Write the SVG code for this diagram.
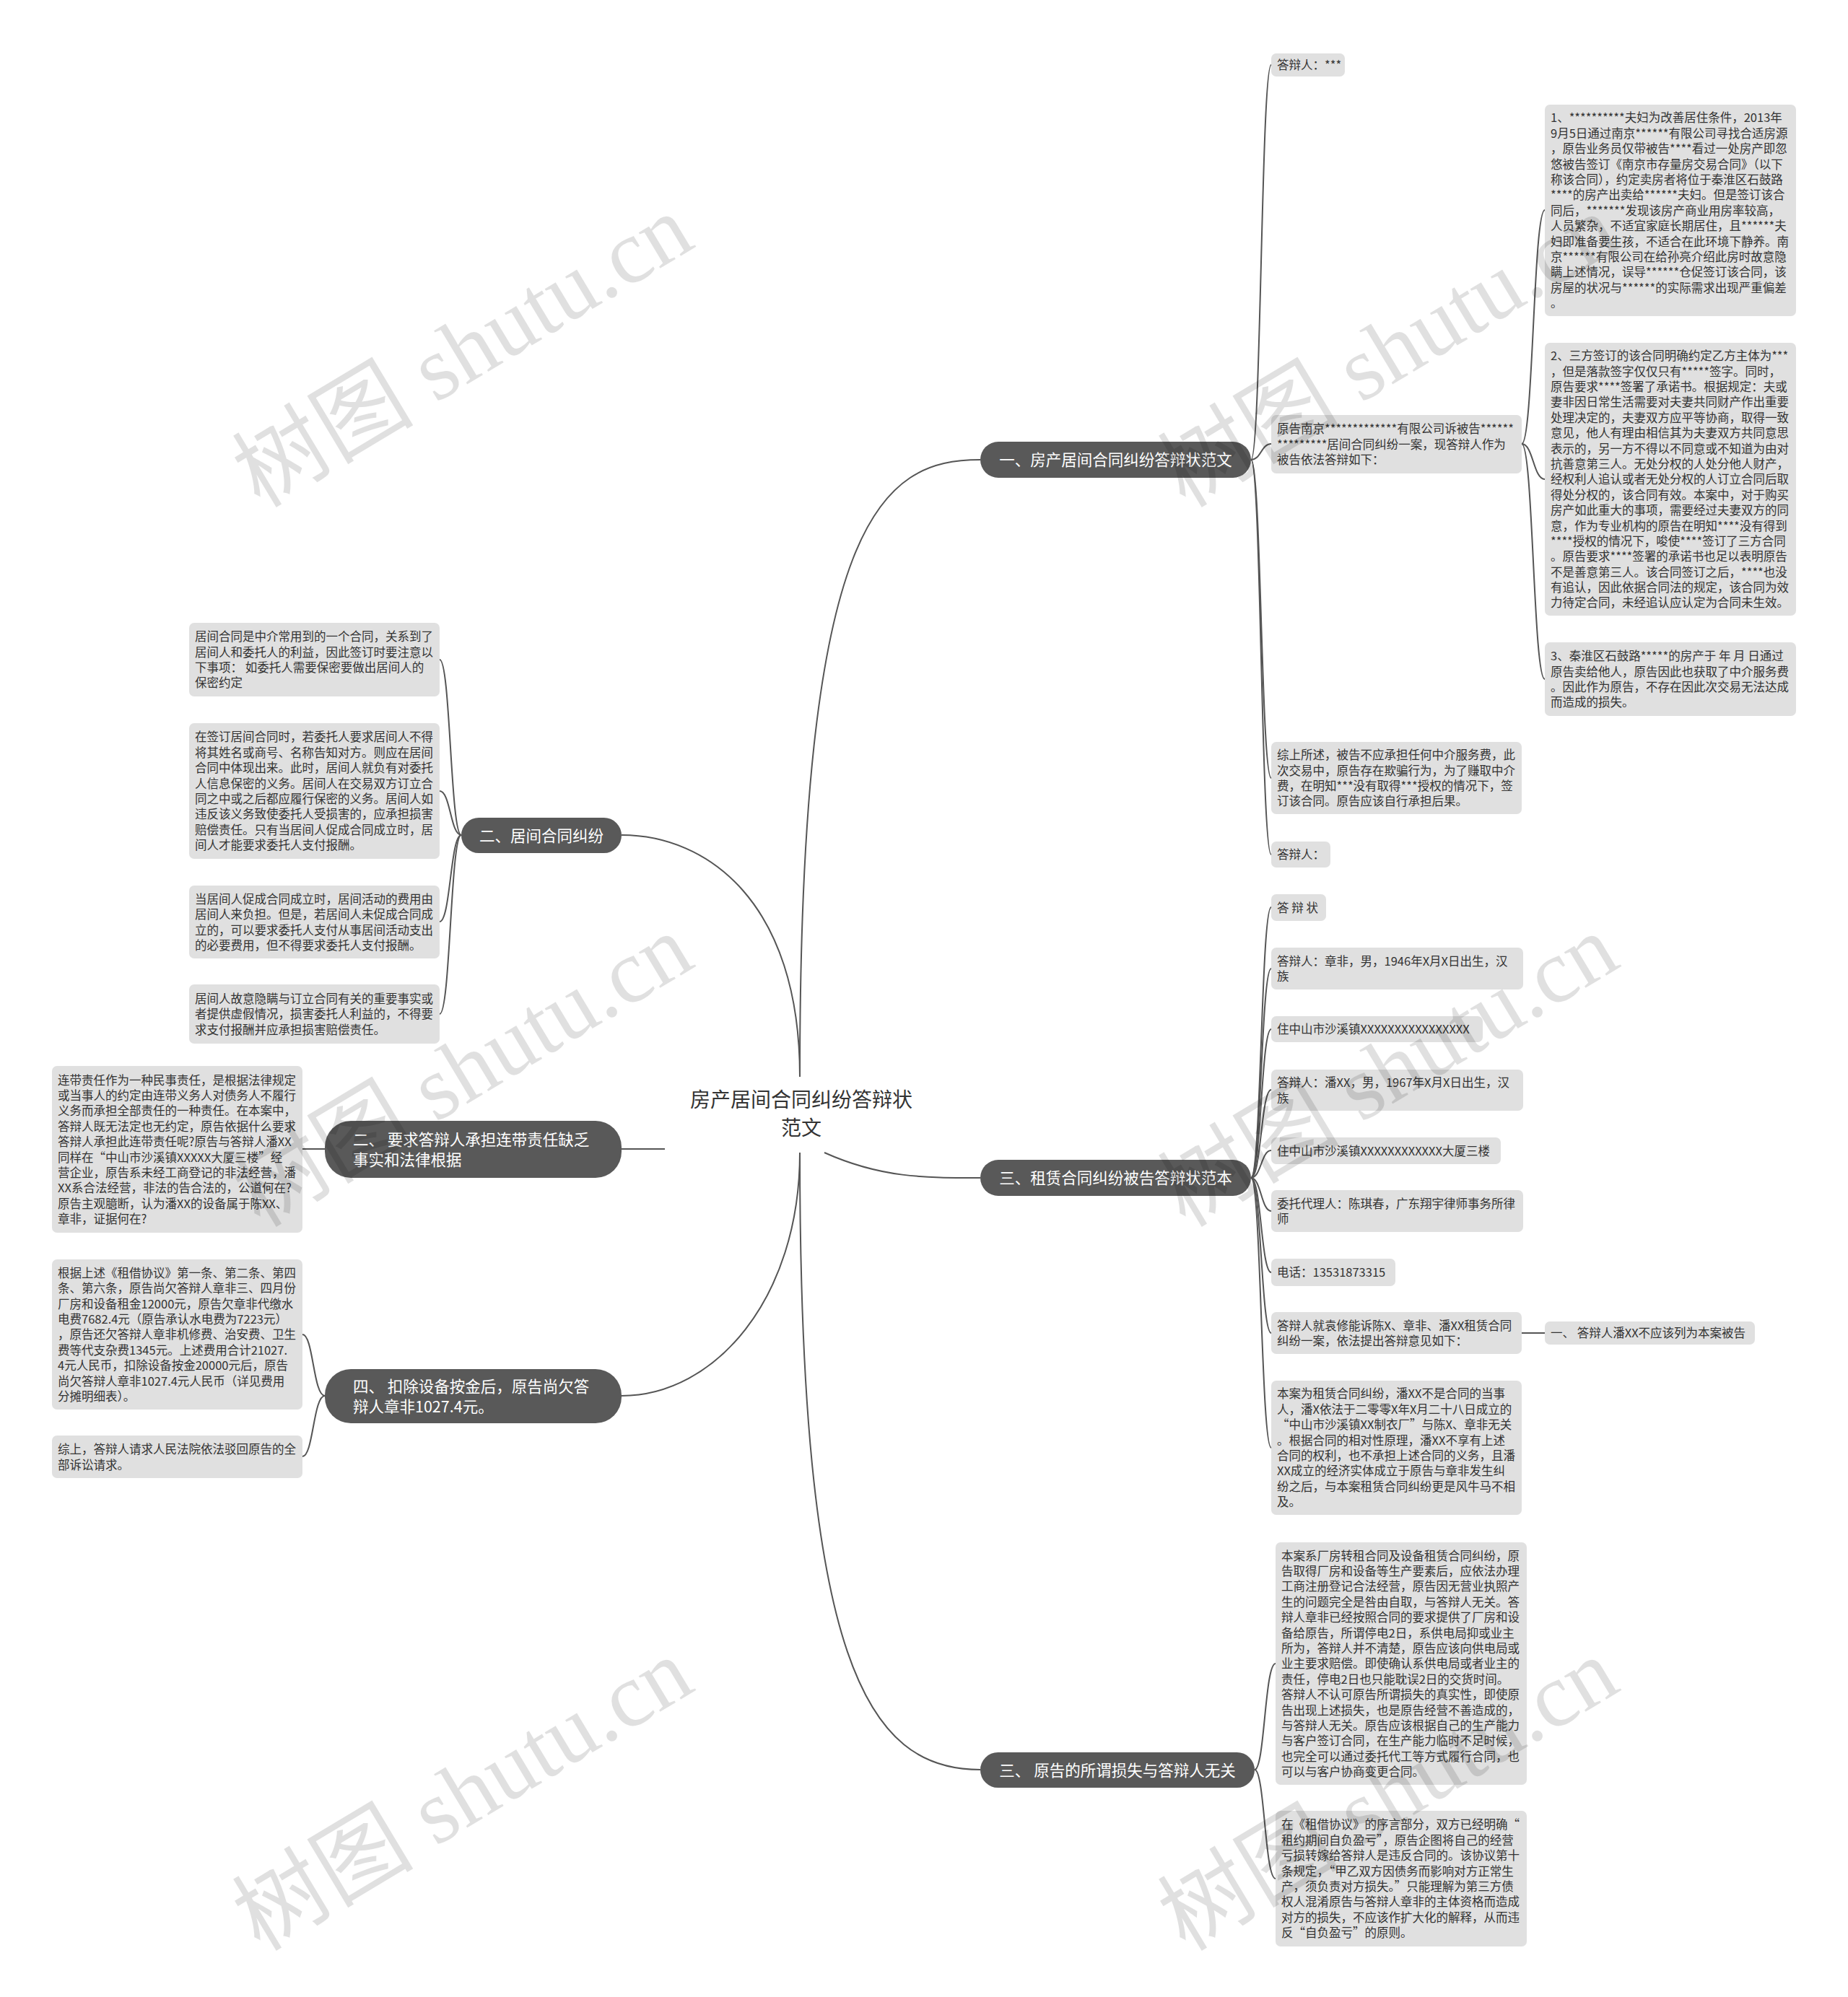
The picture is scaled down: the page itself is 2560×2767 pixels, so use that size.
<svg xmlns="http://www.w3.org/2000/svg" width="2560" height="2767" viewBox="0 0 2560 2767">
<style>
text{font-family:"Noto Sans CJK SC","Noto Sans",sans-serif}
.leaf rect{fill:#e0e0e0}
.lt{font-size:16.5px;fill:#333}
.br rect{fill:#595959}
.bt{font-size:21.5px;fill:#fff}
.rt{font-size:28px;fill:#333}
.conn path{stroke:#555;stroke-width:2;fill:none}
.wm{font-family:"Liberation Serif","Noto Sans CJK SC",serif;font-size:126px;fill:#000;fill-opacity:0.12}
</style>
<rect width="2560" height="2767" fill="#fff"/>
<g id="connectors" class="conn">
<path d="M1108 1492 C1108 720 1220 637 1358 637"/>
<path d="M861 1157 C980 1157 1108 1250 1108 1492"/>
<path d="M861 1592 L921 1592"/>
<path d="M861 1934 C990 1934 1108 1800 1108 1597"/>
<path d="M1142 1597 C1220 1632 1280 1632 1358 1632"/>
<path d="M1108 1597 C1108 2300 1200 2452 1358 2452"/>
<path d="M1733 637 C1747 637 1747 90 1761 90"/>
<path d="M1733 637 C1747 637 1747 615 1761 615"/>
<path d="M1733 637 C1747 637 1747 1078 1761 1078"/>
<path d="M1733 637 C1747 637 1747 1184 1761 1184"/>
<path d="M2108 615 C2124 615 2124 291 2140 291"/>
<path d="M2108 615 C2124 615 2124 664 2140 664"/>
<path d="M2108 615 C2124 615 2124 941 2140 941"/>
<path d="M639 1157 C624 1157 624 914 609 914"/>
<path d="M639 1157 C624 1157 624 1096 609 1096"/>
<path d="M639 1157 C624 1157 624 1277 609 1277"/>
<path d="M639 1157 C624 1157 624 1405 609 1405"/>
<path d="M450 1592 L419 1592"/>
<path d="M450 1934 C434 1934 434 1849 419 1849"/>
<path d="M450 1934 C434 1934 434 2018 419 2018"/>
<path d="M1733 1632 C1747 1632 1747 1257 1761 1257"/>
<path d="M1733 1632 C1747 1632 1747 1342 1761 1342"/>
<path d="M1733 1632 C1747 1632 1747 1426 1761 1426"/>
<path d="M1733 1632 C1747 1632 1747 1510 1761 1510"/>
<path d="M1733 1632 C1747 1632 1747 1594 1761 1594"/>
<path d="M1733 1632 C1747 1632 1747 1678 1761 1678"/>
<path d="M1733 1632 C1747 1632 1747 1763 1761 1763"/>
<path d="M1733 1632 C1747 1632 1747 1847 1761 1847"/>
<path d="M1733 1632 C1747 1632 1747 2006 1761 2006"/>
<path d="M2108 1847 L2140 1847"/>
<path d="M1738 2452 C1752 2452 1752 2305 1767 2305"/>
<path d="M1738 2452 C1752 2452 1752 2603 1767 2603"/>
</g>
<g id="root">
<text class="rt" text-anchor="middle"><tspan x="1110" y="1534">房产居间合同纠纷答辩状</tspan><tspan x="1110" y="1573">范文</tspan></text>
</g>
<g id="b1" class="br"><rect x="1358" y="612" width="375" height="50" rx="25"/><text class="bt" x="1545.5" y="645" text-anchor="middle">一、房产居间合同纠纷答辩状范文</text></g>
<g id="b2" class="br"><rect x="639" y="1133" width="222" height="49" rx="24.5"/><text class="bt" x="750" y="1165.5" text-anchor="middle">二、居间合同纠纷</text></g>
<g id="b5" class="br"><rect x="450" y="1553" width="411" height="79" rx="36"/><text class="bt"><tspan x="489" y="1586.5">二、 要求答辩人承担连带责任缺乏</tspan><tspan x="489" y="1614.5">事实和法律根据</tspan></text></g>
<g id="b6" class="br"><rect x="450" y="1897" width="411" height="75" rx="36"/><text class="bt"><tspan x="489" y="1928.5">四、 扣除设备按金后，原告尚欠答</tspan><tspan x="489" y="1956.5">辩人章非1027.4元。</tspan></text></g>
<g id="b3" class="br"><rect x="1358" y="1607" width="375" height="50" rx="25"/><text class="bt" x="1545.5" y="1640" text-anchor="middle">三、租赁合同纠纷被告答辩状范本</text></g>
<g id="b4" class="br"><rect x="1358" y="2428" width="380" height="49" rx="24.5"/><text class="bt" x="1548" y="2460.5" text-anchor="middle">三、 原告的所谓损失与答辩人无关</text></g>
<g id="n-a" class="leaf"><rect x="1761" y="74" width="102" height="32" rx="7"/><text class="lt" x="1769" y="96.3">答辩人：***</text></g>
<g id="n-b" class="leaf"><rect x="1761" y="575" width="347" height="81" rx="7"/><text class="lt"><tspan x="1769" y="600.4">原告南京*************有限公司诉被告******</tspan><tspan x="1769" dy="21.4">*********居间合同纠纷一案，现答辩人作为</tspan><tspan x="1769" dy="21.4">被告依法答辩如下：</tspan></text></g>
<g id="n-b1" class="leaf"><rect x="2140" y="145" width="348" height="293" rx="7"/><text class="lt"><tspan x="2148" y="169.4">1、**********夫妇为改善居住条件，2013年</tspan><tspan x="2148" dy="21.4">9月5日通过南京******有限公司寻找合适房源</tspan><tspan x="2148" dy="21.4">，原告业务员仅带被告****看过一处房产即忽</tspan><tspan x="2148" dy="21.4">悠被告签订《南京市存量房交易合同》（以下</tspan><tspan x="2148" dy="21.4">称该合同），约定卖房者将位于秦淮区石鼓路</tspan><tspan x="2148" dy="21.4">****的房产出卖给******夫妇。但是签订该合</tspan><tspan x="2148" dy="21.4">同后，*******发现该房产商业用房率较高，</tspan><tspan x="2148" dy="21.4">人员繁杂，不适宜家庭长期居住，且******夫</tspan><tspan x="2148" dy="21.4">妇即准备要生孩，不适合在此环境下静养。南</tspan><tspan x="2148" dy="21.4">京******有限公司在给孙亮介绍此房时故意隐</tspan><tspan x="2148" dy="21.4">瞒上述情况，误导******仓促签订该合同，该</tspan><tspan x="2148" dy="21.4">房屋的状况与******的实际需求出现严重偏差</tspan><tspan x="2148" dy="21.4">。</tspan></text></g>
<g id="n-b2" class="leaf"><rect x="2140" y="475" width="348" height="378" rx="7"/><text class="lt"><tspan x="2148" y="499.1">2、三方签订的该合同明确约定乙方主体为***</tspan><tspan x="2148" dy="21.4">，但是落款签字仅仅只有*****签字。同时，</tspan><tspan x="2148" dy="21.4">原告要求****签署了承诺书。根据规定：夫或</tspan><tspan x="2148" dy="21.4">妻非因日常生活需要对夫妻共同财产作出重要</tspan><tspan x="2148" dy="21.4">处理决定的，夫妻双方应平等协商，取得一致</tspan><tspan x="2148" dy="21.4">意见，他人有理由相信其为夫妻双方共同意思</tspan><tspan x="2148" dy="21.4">表示的，另一方不得以不同意或不知道为由对</tspan><tspan x="2148" dy="21.4">抗善意第三人。无处分权的人处分他人财产，</tspan><tspan x="2148" dy="21.4">经权利人追认或者无处分权的人订立合同后取</tspan><tspan x="2148" dy="21.4">得处分权的，该合同有效。本案中，对于购买</tspan><tspan x="2148" dy="21.4">房产如此重大的事项，需要经过夫妻双方的同</tspan><tspan x="2148" dy="21.4">意，作为专业机构的原告在明知****没有得到</tspan><tspan x="2148" dy="21.4">****授权的情况下，唆使****签订了三方合同</tspan><tspan x="2148" dy="21.4">。原告要求****签署的承诺书也足以表明原告</tspan><tspan x="2148" dy="21.4">不是善意第三人。该合同签订之后，****也没</tspan><tspan x="2148" dy="21.4">有追认，因此依据合同法的规定，该合同为效</tspan><tspan x="2148" dy="21.4">力待定合同，未经追认应认定为合同未生效。</tspan></text></g>
<g id="n-b3" class="leaf"><rect x="2140" y="890" width="348" height="102" rx="7"/><text class="lt"><tspan x="2148" y="915.2">3、秦淮区石鼓路*****的房产于 年 月 日通过</tspan><tspan x="2148" dy="21.4">原告卖给他人，原告因此也获取了中介服务费</tspan><tspan x="2148" dy="21.4">。因此作为原告，不存在因此次交易无法达成</tspan><tspan x="2148" dy="21.4">而造成的损失。</tspan></text></g>
<g id="n-c" class="leaf"><rect x="1761" y="1028" width="347" height="100" rx="7"/><text class="lt"><tspan x="1769" y="1052.2">综上所述，被告不应承担任何中介服务费，此</tspan><tspan x="1769" dy="21.4">次交易中，原告存在欺骗行为，为了赚取中介</tspan><tspan x="1769" dy="21.4">费，在明知***没有取得***授权的情况下，签</tspan><tspan x="1769" dy="21.4">订该合同。原告应该自行承担后果。</tspan></text></g>
<g id="n-d" class="leaf"><rect x="1761" y="1166" width="82" height="36" rx="7"/><text class="lt" x="1769" y="1190.3">答辩人：</text></g>
<g id="n-l1" class="leaf"><rect x="262" y="863" width="347" height="102" rx="7"/><text class="lt"><tspan x="270" y="888.2">居间合同是中介常用到的一个合同，关系到了</tspan><tspan x="270" dy="21.4">居间人和委托人的利益，因此签订时要注意以</tspan><tspan x="270" dy="21.4">下事项：  如委托人需要保密要做出居间人的</tspan><tspan x="270" dy="21.4">保密约定</tspan></text></g>
<g id="n-l2" class="leaf"><rect x="262" y="1002" width="347" height="188" rx="7"/><text class="lt"><tspan x="270" y="1027.4">在签订居间合同时，若委托人要求居间人不得</tspan><tspan x="270" dy="21.4">将其姓名或商号、名称告知对方。则应在居间</tspan><tspan x="270" dy="21.4">合同中体现出来。此时，居间人就负有对委托</tspan><tspan x="270" dy="21.4">人信息保密的义务。居间人在交易双方订立合</tspan><tspan x="270" dy="21.4">同之中或之后都应履行保密的义务。居间人如</tspan><tspan x="270" dy="21.4">违反该义务致使委托人受损害的，应承担损害</tspan><tspan x="270" dy="21.4">赔偿责任。只有当居间人促成合同成立时，居</tspan><tspan x="270" dy="21.4">间人才能要求委托人支付报酬。</tspan></text></g>
<g id="n-l3" class="leaf"><rect x="262" y="1227" width="347" height="101" rx="7"/><text class="lt"><tspan x="270" y="1251.7">当居间人促成合同成立时，居间活动的费用由</tspan><tspan x="270" dy="21.4">居间人来负担。但是，若居间人未促成合同成</tspan><tspan x="270" dy="21.4">立的，可以要求委托人支付从事居间活动支出</tspan><tspan x="270" dy="21.4">的必要费用，但不得要求委托人支付报酬。</tspan></text></g>
<g id="n-l4" class="leaf"><rect x="262" y="1364" width="347" height="82" rx="7"/><text class="lt"><tspan x="270" y="1389.9">居间人故意隐瞒与订立合同有关的重要事实或</tspan><tspan x="270" dy="21.4">者提供虚假情况，损害委托人利益的，不得要</tspan><tspan x="270" dy="21.4">求支付报酬并应承担损害赔偿责任。</tspan></text></g>
<g id="n-l5" class="leaf"><rect x="72" y="1477" width="347" height="231" rx="7"/><text class="lt"><tspan x="80" y="1502.5">连带责任作为一种民事责任，是根据法律规定</tspan><tspan x="80" dy="21.4">或当事人的约定由连带义务人对债务人不履行</tspan><tspan x="80" dy="21.4">义务而承担全部责任的一种责任。在本案中，</tspan><tspan x="80" dy="21.4">答辩人既无法定也无约定，原告依据什么要求</tspan><tspan x="80" dy="21.4">答辩人承担此连带责任呢?原告与答辩人潘XX</tspan><tspan x="80" dy="21.4">同样在“中山市沙溪镇XXXXX大厦三楼”经</tspan><tspan x="80" dy="21.4">营企业，原告系未经工商登记的非法经营，潘</tspan><tspan x="80" dy="21.4">XX系合法经营，非法的告合法的，公道何在?</tspan><tspan x="80" dy="21.4">原告主观臆断，认为潘XX的设备属于陈XX、</tspan><tspan x="80" dy="21.4">章非，证据何在?</tspan></text></g>
<g id="n-l6a" class="leaf"><rect x="72" y="1745" width="347" height="208" rx="7"/><text class="lt"><tspan x="80" y="1769.7">根据上述《租借协议》第一条、第二条、第四</tspan><tspan x="80" dy="21.4">条、第六条，原告尚欠答辩人章非三、四月份</tspan><tspan x="80" dy="21.4">厂房和设备租金12000元，原告欠章非代缴水</tspan><tspan x="80" dy="21.4">电费7682.4元（原告承认水电费为7223元）</tspan><tspan x="80" dy="21.4">，原告还欠答辩人章非机修费、治安费、卫生</tspan><tspan x="80" dy="21.4">费等代支杂费1345元。上述费用合计21027.</tspan><tspan x="80" dy="21.4">4元人民币，扣除设备按金20000元后，原告</tspan><tspan x="80" dy="21.4">尚欠答辩人章非1027.4元人民币（详见费用</tspan><tspan x="80" dy="21.4">分摊明细表）。</tspan></text></g>
<g id="n-l6b" class="leaf"><rect x="72" y="1989" width="347" height="59" rx="7"/><text class="lt"><tspan x="80" y="2014.1">综上，答辩人请求人民法院依法驳回原告的全</tspan><tspan x="80" dy="21.4">部诉讼请求。</tspan></text></g>
<g id="n-m1" class="leaf"><rect x="1761" y="1239" width="76" height="37" rx="7"/><text class="lt" x="1769" y="1263.8">答 辩 状</text></g>
<g id="n-m2" class="leaf"><rect x="1761" y="1313" width="349" height="58" rx="7"/><text class="lt"><tspan x="1769" y="1337.6">答辩人：章非，男，1946年X月X日出生，汉</tspan><tspan x="1769" dy="21.4">族</tspan></text></g>
<g id="n-m3" class="leaf"><rect x="1761" y="1408" width="293" height="36" rx="7"/><text class="lt" x="1769" y="1432.3">住中山市沙溪镇XXXXXXXXXXXXXXXX</text></g>
<g id="n-m4" class="leaf"><rect x="1761" y="1482" width="349" height="57" rx="7"/><text class="lt"><tspan x="1769" y="1506.1">答辩人：潘XX，男，1967年X月X日出生，汉</tspan><tspan x="1769" dy="21.4">族</tspan></text></g>
<g id="n-m5" class="leaf"><rect x="1761" y="1576" width="318" height="37" rx="7"/><text class="lt" x="1769" y="1600.8">住中山市沙溪镇XXXXXXXXXXXX大厦三楼</text></g>
<g id="n-m6" class="leaf"><rect x="1761" y="1649" width="349" height="58" rx="7"/><text class="lt"><tspan x="1769" y="1673.6">委托代理人：陈琪春，广东翔宇律师事务所律</tspan><tspan x="1769" dy="21.4">师</tspan></text></g>
<g id="n-m7" class="leaf"><rect x="1761" y="1744" width="172" height="38" rx="7"/><text class="lt" x="1769" y="1769.3">电话：13531873315</text></g>
<g id="n-m8" class="leaf"><rect x="1761" y="1818" width="347" height="58" rx="7"/><text class="lt"><tspan x="1769" y="1842.6">答辩人就袁修能诉陈X、章非、潘XX租赁合同</tspan><tspan x="1769" dy="21.4">纠纷一案，依法提出答辩意见如下：</tspan></text></g>
<g id="n-m8c" class="leaf"><rect x="2140" y="1831" width="291" height="32" rx="7"/><text class="lt" x="2148" y="1853.3">一、 答辩人潘XX不应该列为本案被告</text></g>
<g id="n-m9" class="leaf"><rect x="1761" y="1913" width="347" height="186" rx="7"/><text class="lt"><tspan x="1769" y="1937.4">本案为租赁合同纠纷，潘XX不是合同的当事</tspan><tspan x="1769" dy="21.4">人，潘X依法于二零零X年X月二十八日成立的</tspan><tspan x="1769" dy="21.4">“中山市沙溪镇XX制衣厂”与陈X、章非无关</tspan><tspan x="1769" dy="21.4">。根据合同的相对性原理，潘XX不享有上述</tspan><tspan x="1769" dy="21.4">合同的权利，也不承担上述合同的义务，且潘</tspan><tspan x="1769" dy="21.4">XX成立的经济实体成立于原告与章非发生纠</tspan><tspan x="1769" dy="21.4">纷之后，与本案租赁合同纠纷更是风牛马不相</tspan><tspan x="1769" dy="21.4">及。</tspan></text></g>
<g id="n-n1" class="leaf"><rect x="1767" y="2137" width="348" height="336" rx="7"/><text class="lt"><tspan x="1775" y="2161.5">本案系厂房转租合同及设备租赁合同纠纷，原</tspan><tspan x="1775" dy="21.4">告取得厂房和设备等生产要素后，应依法办理</tspan><tspan x="1775" dy="21.4">工商注册登记合法经营，原告因无营业执照产</tspan><tspan x="1775" dy="21.4">生的问题完全是咎由自取，与答辩人无关。答</tspan><tspan x="1775" dy="21.4">辩人章非已经按照合同的要求提供了厂房和设</tspan><tspan x="1775" dy="21.4">备给原告，所谓停电2日，系供电局抑或业主</tspan><tspan x="1775" dy="21.4">所为，答辩人并不清楚，原告应该向供电局或</tspan><tspan x="1775" dy="21.4">业主要求赔偿。即使确认系供电局或者业主的</tspan><tspan x="1775" dy="21.4">责任，停电2日也只能耽误2日的交货时间。</tspan><tspan x="1775" dy="21.4">答辩人不认可原告所谓损失的真实性，即使原</tspan><tspan x="1775" dy="21.4">告出现上述损失，也是原告经营不善造成的，</tspan><tspan x="1775" dy="21.4">与答辩人无关。原告应该根据自己的生产能力</tspan><tspan x="1775" dy="21.4">与客户签订合同，在生产能力临时不足时候，</tspan><tspan x="1775" dy="21.4">也完全可以通过委托代工等方式履行合同，也</tspan><tspan x="1775" dy="21.4">可以与客户协商变更合同。</tspan></text></g>
<g id="n-n2" class="leaf"><rect x="1767" y="2509" width="348" height="188" rx="7"/><text class="lt"><tspan x="1775" y="2534.4">在《租借协议》的序言部分，双方已经明确“</tspan><tspan x="1775" dy="21.4">租约期间自负盈亏”，原告企图将自己的经营</tspan><tspan x="1775" dy="21.4">亏损转嫁给答辩人是违反合同的。该协议第十</tspan><tspan x="1775" dy="21.4">条规定，“甲乙双方因债务而影响对方正常生</tspan><tspan x="1775" dy="21.4">产，须负责对方损失。”只能理解为第三方债</tspan><tspan x="1775" dy="21.4">权人混淆原告与答辩人章非的主体资格而造成</tspan><tspan x="1775" dy="21.4">对方的损失，不应该作扩大化的解释，从而违</tspan><tspan x="1775" dy="21.4">反“自负盈亏”的原则。</tspan></text></g>
<g id="watermarks">
<text class="wm" transform="translate(360 705) rotate(-31)">树图 shutu.cn</text>
<text class="wm" transform="translate(1642 705) rotate(-31)">树图 shutu.cn</text>
<text class="wm" transform="translate(360 1702) rotate(-31)">树图 shutu.cn</text>
<text class="wm" transform="translate(1642 1702) rotate(-31)">树图 shutu.cn</text>
<text class="wm" transform="translate(360 2705) rotate(-31)">树图 shutu.cn</text>
<text class="wm" transform="translate(1642 2705) rotate(-31)">树图 shutu.cn</text>
</g>
</svg>
